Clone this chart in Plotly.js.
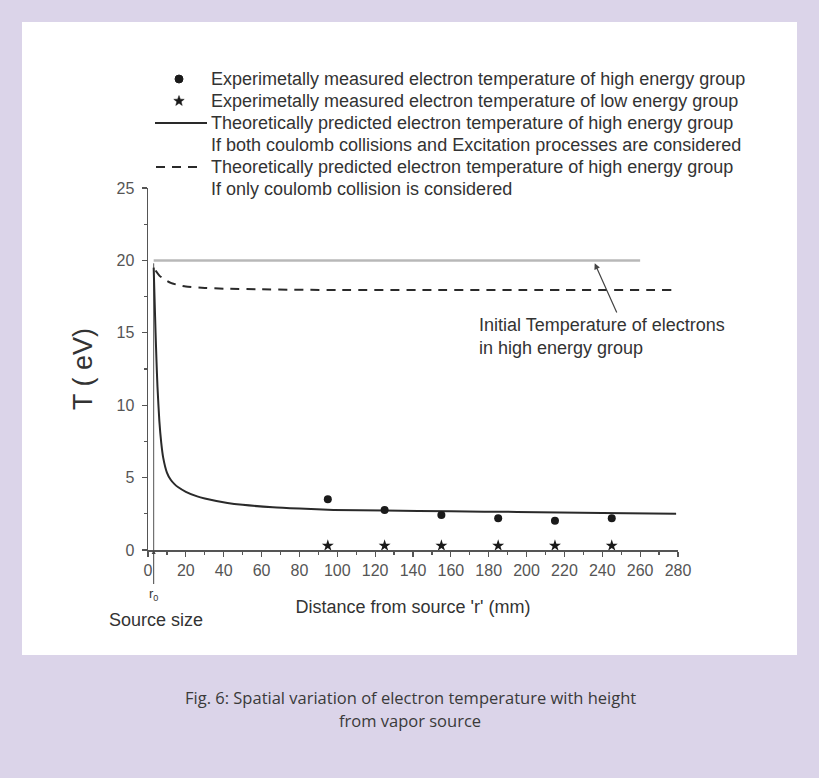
<!DOCTYPE html>
<html><head><meta charset="utf-8">
<script src="https://cdn.plot.ly/plotly-3.0.1.min.js"></script>
<style>
html,body{margin:0;padding:0;background:#dbd4e9;width:819px;height:778px;overflow:hidden;}
#panel{position:absolute;left:22px;top:22px;width:775px;height:633px;background:#ffffff;}
#chart{position:absolute;left:0;top:0;width:819px;height:778px;}
</style></head><body>
<div id="panel"></div><div id="chart"></div>
<script>
// ---- data ----
const measuredX = [95, 125, 155, 185, 215, 245];
const highEnergyT = [3.5, 2.76, 2.41, 2.19, 2.02, 2.19];
const lowEnergyT = [0.3, 0.3, 0.3, 0.3, 0.3, 0.3];

const theoryBothX = [3, 3.5, 4, 4.5, 5, 6, 7, 8, 10, 12, 14, 16, 20, 26, 30, 42, 50, 66, 80, 98, 125, 160, 195, 240, 279];
const theoryBothT = [19.5, 17.2, 15.0, 13.0, 11.3, 8.9, 7.4, 6.4, 5.35, 4.85, 4.55, 4.33, 4.02, 3.7, 3.56, 3.25, 3.12, 2.95, 2.86, 2.77, 2.72, 2.67, 2.63, 2.56, 2.50];

const theoryCoulombX = [4, 6, 8, 12, 16, 20, 30, 40, 60, 100, 150, 200, 277];
const theoryCoulombT = [19.3, 18.95, 18.75, 18.45, 18.3, 18.2, 18.1, 18.05, 18.0, 17.95, 17.95, 17.95, 17.95];

const initialTempX = [3, 260];
const initialTempT = [20, 20];

const sourceSizeR0 = 3;
const r0LineX = [3, 3];
const r0LineT = [0, 19.8];

const xTickVals = [0, 20, 40, 60, 80, 100, 120, 140, 160, 180, 200, 220, 240, 260, 280];
const yTickVals = [0, 5, 10, 15, 20, 25];

const legendLabels = [
  'Experimetally measured electron temperature of high energy group',
  'Experimetally measured electron temperature of low energy group',
  'Theoretically predicted electron temperature of high energy group',
  'If both coulomb collisions and Excitation processes are considered',
  'Theoretically predicted electron temperature of high energy group',
  'If only coulomb collision is considered'
];
const xTitle = "Distance from source 'r' (mm)";
const yTitle = 'T ( eV)';
const noteText = 'Initial Temperature of electrons<br>in high energy group';
const captionLines = ['Fig. 6: Spatial variation of electron temperature with height', 'from vapor source'];

// ---- layout helpers (pixel -> paper) ----
const PL = 148, PR = 678, PT = 188, PB = 550;
const W = PR - PL, H = PB - PT;
const px = p => (p - PL) / W;
const py = p => (PB - p) / H;

const FONT = 'Liberation Sans, Arial, sans-serif';
const ink = '#333333';

const traces = [
  {x: r0LineX, y: r0LineT, mode: 'lines', line: {color: '#555', width: 1}, showlegend: false, hoverinfo: 'skip'},
  {x: initialTempX, y: initialTempT, mode: 'lines', line: {color: '#b8b8b8', width: 2.5}, showlegend: false, name: 'Initial temperature'},
  {x: theoryCoulombX, y: theoryCoulombT, mode: 'lines', line: {color: '#2a2a2a', width: 2, dash: '9px,7px', shape: 'spline', smoothing: 0.6}, name: legendLabels[4] + ' ' + legendLabels[5]},
  {x: theoryBothX, y: theoryBothT, mode: 'lines', line: {color: '#2a2a2a', width: 2, shape: 'spline', smoothing: 0.6}, name: legendLabels[2] + ' ' + legendLabels[3]},
  {x: measuredX, y: highEnergyT, mode: 'markers', marker: {symbol: 'circle', size: 8, color: '#1a1a1a'}, name: legendLabels[0], cliponaxis: false},
  {x: measuredX, y: lowEnergyT, mode: 'markers', marker: {symbol: 'star', size: 9, color: '#1a1a1a'}, name: legendLabels[1], cliponaxis: false}
];

const annotations = [];
const shapes = [];
const rowY = [79, 101, 123, 145, 167, 189];
legendLabels.forEach((t, i) => {
  annotations.push({xref: 'paper', yref: 'paper', x: px(209), y: py(rowY[i]), xanchor: 'left', yanchor: 'middle',
    text: t, showarrow: false, font: {family: FONT, size: 18, color: ink}});
});
// legend symbols
shapes.push({type: 'circle', xref: 'paper', yref: 'paper', xsizemode: 'pixel', ysizemode: 'pixel',
  xanchor: px(179), yanchor: py(rowY[0]), x0: -4, x1: 4, y0: -4, y1: 4,
  fillcolor: '#1a1a1a', line: {color: '#1a1a1a', width: 1}});
shapes.push({type: 'path', xref: 'paper', yref: 'paper', xsizemode: 'pixel', ysizemode: 'pixel',
  xanchor: px(179), yanchor: py(rowY[1]),
  path: 'M0,5.5 L-1.35,1.86 L-5.23,1.7 L-2.19,-0.71 L-3.23,-4.45 L0,-2.3 L3.23,-4.45 L2.19,-0.71 L5.23,1.7 L1.35,1.86 Z',
  fillcolor: '#1a1a1a', line: {color: '#1a1a1a', width: 0.5}});
shapes.push({type: 'line', xref: 'paper', yref: 'paper', x0: px(155), x1: px(207), y0: py(rowY[2]), y1: py(rowY[2]),
  line: {color: '#2a2a2a', width: 2}});
shapes.push({type: 'line', xref: 'paper', yref: 'paper', x0: px(156), x1: px(198), y0: py(rowY[4]), y1: py(rowY[4]),
  line: {color: '#2a2a2a', width: 2, dash: '9px,7px'}});

// note with arrow
annotations.push({xref: 'x', yref: 'y', x: 236, y: 19.8, axref: 'x', ayref: 'y', ax: 248, ay: 16.3,
  text: '', showarrow: true, arrowhead: 2, arrowsize: 1, arrowwidth: 1.2, arrowcolor: '#444'});
annotations.push({xref: 'x', yref: 'y', x: 174, y: 16.4, xanchor: 'left', yanchor: 'top', align: 'left',
  text: noteText, showarrow: false, font: {family: FONT, size: 18, color: ink}});

// r0 marker and source size
annotations.push({xref: 'x', yref: 'y', x: sourceSizeR0, y: 0, ax: 0, ay: 44, axref: 'pixel', ayref: 'pixel',
  text: 'r<sub>0</sub>', showarrow: true, arrowhead: 2, arrowsize: 0.8, arrowwidth: 1, arrowcolor: '#444',
  font: {family: FONT, size: 13, color: ink}});
annotations.push({xref: 'paper', yref: 'paper', x: px(156), y: py(620), xanchor: 'center', yanchor: 'middle',
  text: 'Source size', showarrow: false, font: {family: FONT, size: 18, color: ink}});

// caption
annotations.push({xref: 'paper', yref: 'paper', x: px(410), y: py(697), xanchor: 'center', yanchor: 'middle',
  text: captionLines[0], showarrow: false, font: {family: 'Open Sans, Noto Sans, sans-serif', size: 16.5, color: '#3a3a3a'}});
annotations.push({xref: 'paper', yref: 'paper', x: px(410), y: py(720), xanchor: 'center', yanchor: 'middle',
  text: captionLines[1], showarrow: false, font: {family: 'Open Sans, Noto Sans, sans-serif', size: 16.5, color: '#3a3a3a'}});

const axisCommon = {
  showline: true, linecolor: '#555', linewidth: 1.5, ticks: 'outside', ticklen: 5, tickwidth: 1.2, tickcolor: '#555',
  showgrid: false, zeroline: false, tickfont: {family: FONT, size: 16, color: '#555'}, fixedrange: true, automargin: false
};

const layout = {
  width: 819, height: 778,
  margin: {l: PL, r: 819 - PR, t: PT, b: 778 - PB, pad: 0},
  paper_bgcolor: 'rgba(0,0,0,0)', plot_bgcolor: 'rgba(0,0,0,0)',
  showlegend: false,
  xaxis: Object.assign({}, axisCommon, {range: [0, 280], tickmode: 'array', tickvals: xTickVals,
    title: {text: xTitle, font: {family: FONT, size: 18, color: ink}, standoff: 22},
    minor: {ticks: 'outside', ticklen: 3, dtick: 10, tickcolor: '#555'}}),
  yaxis: Object.assign({}, axisCommon, {range: [0, 25], tickmode: 'array', tickvals: yTickVals, ticklabelstandoff: 4,
    title: {text: yTitle, font: {family: FONT, size: 27, color: ink}, standoff: 16},
    minor: {ticks: 'outside', ticklen: 3, dtick: 2.5, tickcolor: '#555'}}),
  annotations: annotations,
  shapes: shapes
};

Plotly.newPlot('chart', traces, layout, {displayModeBar: false, staticPlot: true});
</script>
</body></html>
